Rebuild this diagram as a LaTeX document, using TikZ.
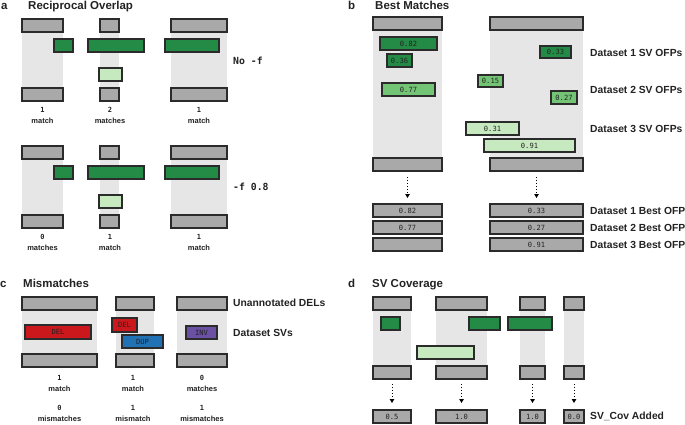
\documentclass[tikz,border=0pt]{standalone}
\usepackage{fontspec}
\setmainfont{Liberation Sans}
\setmonofont{DejaVu Sans Mono}
\usetikzlibrary{arrows.meta}
\definecolor{boxgray}{HTML}{A9A9A9}
\definecolor{bandgray}{HTML}{E6E6E6}
\definecolor{edge}{HTML}{2B2B2B}
\definecolor{gdark}{HTML}{238B45}
\definecolor{gmid}{HTML}{74C476}
\definecolor{glight}{HTML}{C7E9C0}
\definecolor{svred}{HTML}{CB181D}
\definecolor{svblue}{HTML}{2171B5}
\definecolor{svpurple}{HTML}{6A51A3}
\definecolor{txt}{HTML}{222222}
\tikzset{
  base/.style={rectangle, inner sep=0pt, outer sep=0pt, line width=1.1pt, draw=edge,
    font=\ttfamily\fontsize{7.1}{8}\selectfont, text=txt},
  gbox/.style={base, fill=boxgray},
  band/.style={rectangle, inner sep=0pt, outer sep=0pt, fill=bandgray},
  dk/.style={base, fill=gdark},
  md/.style={base, fill=gmid},
  lt/.style={base, fill=glight},
  rd/.style={base, fill=svred},
  bl/.style={base, fill=svblue},
  pu/.style={base, fill=svpurple},
  ttl/.style={inner sep=0pt, anchor=base west, font=\bfseries\fontsize{11.5}{13}\selectfont, text=txt},
  lbl/.style={inner sep=0pt, anchor=west, font=\bfseries\fontsize{10.3}{12}\selectfont, text=txt},
  mlbl/.style={inner sep=0pt, anchor=west, font=\ttfamily\bfseries\fontsize{9.8}{12}\selectfont, text=txt},
  num/.style={inner sep=0pt, font=\ttfamily\bfseries\fontsize{7}{8}\selectfont, text=txt},
  word/.style={inner sep=0pt, font=\bfseries\fontsize{7.5}{8}\selectfont, text=txt},
  darr/.style={line width=1pt, dotted, draw=black, -{Triangle[length=4pt,width=4.5pt]}},
}
% \bx{name}{style}{x1}{y1}{x2}{y2}{text}
\newcommand\bx[7]{\node[#2, minimum width={((#5)-(#3))*1pt}, minimum height={((#6)-(#4))*1pt}] (#1) at ({((#3)+(#5))/2},{((#4)+(#6))/2}) {#7};}
\begin{document}
\begin{tikzpicture}[x=1pt,y=-1pt]
\useasboundingbox (0,0) rectangle (685,424);
\fill[white] (0,0) rectangle (685,424);

% ===================== Panel a =====================
\node[ttl] (la) at (1,9.5) {a};
\node[ttl] (ta) at (28,9.5) {Reciprocal Overlap};
\foreach \o/\r in {0/1,127/2}{
  \bx{a1band\r}{band}{22}{19+\o}{63}{101+\o}{}
  \bx{a2band\r}{band}{100}{19+\o}{119}{101+\o}{}
  \bx{a3band\r}{band}{171}{19+\o}{227}{101+\o}{}
  \bx{a1t\r}{gbox}{22}{19+\o}{63}{32+\o}{}
  \bx{a1b\r}{gbox}{22}{88+\o}{63}{101+\o}{}
  \bx{a2t\r}{gbox}{100}{19+\o}{119}{32+\o}{}
  \bx{a2b\r}{gbox}{100}{88+\o}{119}{101+\o}{}
  \bx{a3t\r}{gbox}{171}{19+\o}{227}{32+\o}{}
  \bx{a3b\r}{gbox}{171}{88+\o}{227}{101+\o}{}
  \bx{a1g\r}{dk}{54}{39+\o}{73}{52+\o}{}
  \bx{a2g\r}{dk}{88}{39+\o}{144}{52+\o}{}
  \bx{a3g\r}{dk}{165}{39+\o}{219}{52+\o}{}
  \bx{a2l\r}{lt}{99}{68+\o}{122}{81+\o}{}
}
\node[mlbl] (nof) at (233,61) {No -f};
\node[mlbl] (f08) at (233,187) {-f 0.8};
\node[num]  (a1n1) at (42.5,110) {1};
\node[word] (a1w1) at (42.5,121) {match};
\node[num]  (a2n1) at (110,110) {2};
\node[word] (a2w1) at (110,121) {matches};
\node[num]  (a3n1) at (199,110) {1};
\node[word] (a3w1) at (199,121) {match};
\node[num]  (a1n2) at (42.5,237) {0};
\node[word] (a1w2) at (42.5,248) {matches};
\node[num]  (a2n2) at (110,237) {1};
\node[word] (a2w2) at (110,248) {match};
\node[num]  (a3n2) at (199,237) {1};
\node[word] (a3w2) at (199,248) {match};

% ===================== Panel b =====================
\node[ttl] (lb) at (348,9.5) {b};
\node[ttl] (tb) at (375,9.5) {Best Matches};
\bx{bLband}{band}{373}{17}{442}{171}{}
\bx{bRband}{band}{490}{17}{583}{171}{}
\bx{bLt}{gbox}{373}{17}{442}{30}{}
\bx{bRt}{gbox}{490}{17}{583}{30}{}
\bx{bLb}{gbox}{373}{158}{442}{171}{}
\bx{bRb}{gbox}{490}{158}{583}{171}{}
\bx{b82}{dk}{380}{37}{437}{50}{0.82}
\bx{b36}{dk}{387}{54}{412}{67}{0.36}
\bx{b77}{md}{382}{83}{435}{96}{0.77}
\bx{b33}{dk}{540}{46}{571}{58}{0.33}
\bx{b15}{md}{478}{75}{503}{87}{0.15}
\bx{b27}{md}{551}{91}{577}{104}{0.27}
\bx{b31}{lt}{466}{122}{519}{135}{0.31}
\bx{b91}{lt}{484}{139}{575}{152}{0.91}
\bx{bL1}{gbox}{373}{204}{442}{217}{0.82}
\bx{bL2}{gbox}{373}{221}{442}{234}{0.77}
\bx{bL3}{gbox}{373}{238}{442}{251}{}
\bx{bR1}{gbox}{490}{204}{583}{217}{0.33}
\bx{bR2}{gbox}{490}{221}{583}{234}{0.27}
\bx{bR3}{gbox}{490}{238}{583}{251}{0.91}
\draw[darr] ([yshift=-6pt]bLb.south) -- ([yshift=6pt]bL1.north);
\draw[darr] ([yshift=-6pt]bRb.south) -- ([yshift=6pt]bR1.north);
\node[lbl] (d1o) at (590,53) {Dataset 1 SV OFPs};
\node[lbl] (d2o) at (590,90) {Dataset 2 SV OFPs};
\node[lbl] (d3o) at (590,129) {Dataset 3 SV OFPs};
\node[lbl] (d1b) at (590,210.5) {Dataset 1 Best OFP};
\node[lbl] (d2b) at (590,227.5) {Dataset 2 Best OFP};
\node[lbl] (d3b) at (590,244.5) {Dataset 3 Best OFP};

% ===================== Panel c =====================
\node[ttl] (lc) at (0,287) {c};
\node[ttl] (tc) at (23,287) {Mismatches};
\bx{c1band}{band}{22}{297}{97}{367}{}
\bx{c2band}{band}{116}{297}{154}{367}{}
\bx{c3band}{band}{177}{297}{227}{367}{}
\bx{c1t}{gbox}{22}{297}{97}{310}{}
\bx{c1b}{gbox}{22}{354}{97}{367}{}
\bx{c2t}{gbox}{116}{297}{154}{310}{}
\bx{c2b}{gbox}{116}{354}{154}{367}{}
\bx{c3t}{gbox}{177}{297}{227}{310}{}
\bx{c3b}{gbox}{177}{354}{227}{367}{}
\bx{cdel}{rd}{25}{325}{91}{339}{DEL}
\bx{cdel2}{rd}{112}{318}{137}{332}{DEL}
\bx{cdup}{bl}{122}{335}{163}{348}{DUP}
\bx{cinv}{pu}{186}{326}{217}{339}{INV}
\node[lbl] (cu) at (233,303) {Unannotated DELs};
\node[lbl] (cs) at (233,333) {Dataset SVs};
\node[num]  (c1n) at (59.5,378) {1};
\node[word] (c1w) at (59.5,389) {match};
\node[num]  (c1m) at (59.5,408) {0};
\node[word] (c1x) at (59.5,419) {mismatches};
\node[num]  (c2n) at (133,378) {1};
\node[word] (c2w) at (133,389) {match};
\node[num]  (c2m) at (133,408) {1};
\node[word] (c2x) at (133,419) {mismatch};
\node[num]  (c3n) at (202,378) {0};
\node[word] (c3w) at (202,389) {matches};
\node[num]  (c3m) at (202,408) {1};
\node[word] (c3x) at (202,419) {mismatches};

% ===================== Panel d =====================
\node[ttl] (ld) at (348,287) {d};
\node[ttl] (td) at (372,287) {SV Coverage};
\bx{d1band}{band}{373}{297}{411}{379}{}
\bx{d2band}{band}{436}{297}{487}{379}{}
\bx{d3band}{band}{520}{297}{545}{379}{}
\bx{d4band}{band}{564}{297}{584}{379}{}
\bx{d1t}{gbox}{373}{297}{411}{310}{}
\bx{d2t}{gbox}{436}{297}{487}{310}{}
\bx{d3t}{gbox}{520}{297}{545}{310}{}
\bx{d4t}{gbox}{564}{297}{584}{310}{}
\bx{d1b}{gbox}{373}{366}{411}{379}{}
\bx{d2b}{gbox}{436}{366}{487}{379}{}
\bx{d3b}{gbox}{520}{366}{545}{379}{}
\bx{d4b}{gbox}{564}{366}{584}{379}{}
\bx{dga}{dk}{381}{317}{400}{330}{}
\bx{dgb}{dk}{469}{317}{500}{330}{}
\bx{dgc}{dk}{508}{317}{552}{330}{}
\bx{dlt}{lt}{417}{346}{474}{359}{}
\bx{d1v}{gbox}{373}{410}{411}{423}{0.5}
\bx{d2v}{gbox}{436}{410}{487}{423}{1.0}
\bx{d3v}{gbox}{520}{410}{545}{423}{1.0}
\bx{d4v}{gbox}{564}{410}{584}{423}{0.0}
\foreach \i in {1,2,3,4}{
  \draw[darr] ([yshift=-5pt]d\i b.south) -- ([yshift=7pt]d\i v.north);
}
\node[lbl] (dsv) at (590,416.5) {SV\_Cov Added};
\end{tikzpicture}
\end{document}
